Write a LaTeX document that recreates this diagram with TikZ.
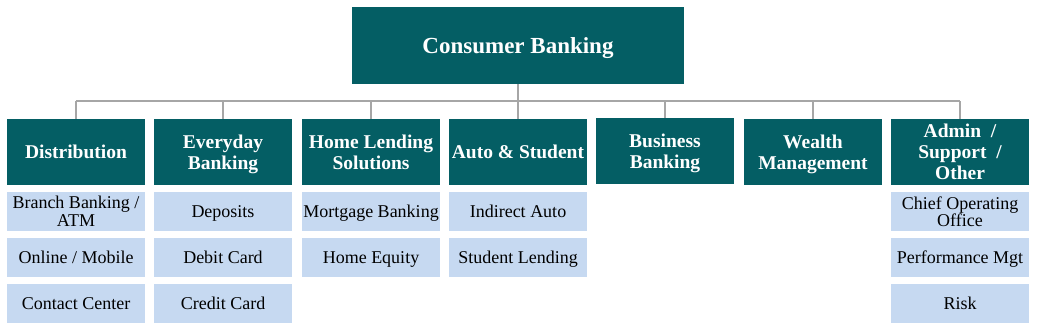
\documentclass[tikz,border=0pt]{standalone}
\usepackage{fontspec}
\setmainfont{Liberation Serif}
\definecolor{tealbox}{RGB}{4,94,100}
\definecolor{lightbox}{RGB}{198,217,241}
\definecolor{linegray}{RGB}{166,166,166}
\tikzset{
  topbox/.style={fill=tealbox, minimum width=332pt, minimum height=77pt, inner sep=0pt, text depth=0pt, text=white, font=\fontsize{23}{25}\selectfont\bfseries},
  headbox/.style={fill=tealbox, minimum width=138pt, minimum height=66pt, inner sep=0pt, text depth=0pt, text=white, align=center, font=\fontsize{19.5}{21}\selectfont\bfseries},
  subbox/.style={fill=lightbox, minimum width=138pt, minimum height=39pt, inner sep=0pt, text depth=0pt, text=black, align=center, font=\fontsize{18}{17.5}\selectfont},
  conn/.style={draw=linegray, line width=1.8pt}
}
\begin{document}
\begin{tikzpicture}[x=1pt,y=-1pt]
\useasboundingbox (0,0) rectangle (1037,332);
\node[topbox] (top) at (518,45.5) {Consumer Banking};
\node[headbox] (h1) at (76,152) {Distribution};
\node[headbox] (h2) at (223,152) {Everyday\\Banking};
\node[headbox] (h3) at (371,152) {Home Lending\\Solutions};
\node[headbox] (h4) at (518,152) {Auto \& Student};
\node[headbox] (h5) at (665,151) {Business\\Banking};
\node[headbox] (h6) at (813,152) {Wealth\\Management};
\node[headbox] (h7) at (960,152) {Admin\ \ /\\Support\ \ /\\Other};
\node[subbox] (s11) at (76,211.5) {Branch Banking /\\ATM};
\node[subbox] (s12) at (76,257.5) {Online / Mobile};
\node[subbox] (s13) at (76,303.5) {Contact Center};
\node[subbox] (s21) at (223,211.5) {Deposits};
\node[subbox] (s22) at (223,257.5) {Debit Card};
\node[subbox] (s23) at (223,303.5) {Credit Card};
\node[subbox] (s31) at (371,211.5) {Mortgage Banking};
\node[subbox] (s32) at (371,257.5) {Home Equity};
\node[subbox] (s41) at (518,211.5) {Indirect Auto};
\node[subbox] (s42) at (518,257.5) {Student Lending};
\node[subbox] (s71) at (960,211.5) {Chief Operating\\Office};
\node[subbox] (s72) at (960,257.5) {Performance Mgt};
\node[subbox] (s73) at (960,303.5) {Risk};
\coordinate (bus) at (518,101);
\draw[conn] (top.south) -- (bus);
\draw[conn] (h1.north |- bus) -- (h7.north |- bus);
\foreach \h in {h1,h2,h3,h4,h5,h6,h7}{
  \draw[conn] (\h.north |- bus) -- (\h.north);
}
\end{tikzpicture}
\end{document}
